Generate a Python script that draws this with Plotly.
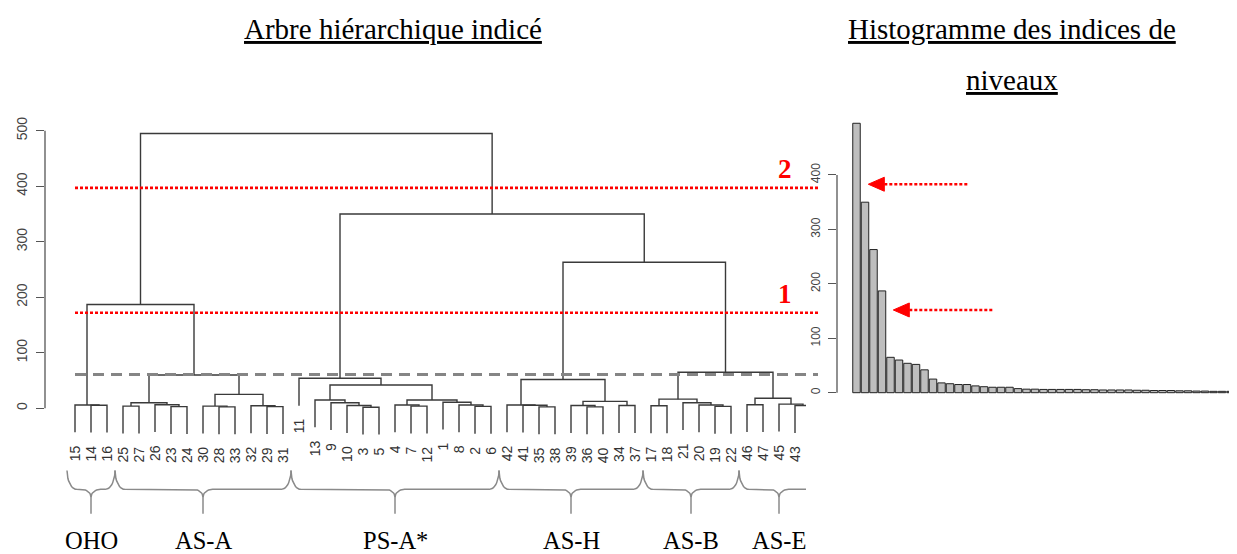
import numpy as np
import plotly.graph_objects as go

# leaves of the tree, left to right
leaf_order = [15, 14, 16, 25, 27, 26, 23, 24, 30, 28, 33, 32, 29, 31,
              11, 13, 9, 10, 3, 5, 4, 7, 12, 1, 8, 2, 6,
              42, 41, 35, 38, 39, 36, 40, 34, 37,
              17, 18, 21, 20, 19, 22,
              46, 47, 45, 43, 44]

# merges (node, left child, right child, level index)
merge_name = ["a1", "oho", "a2", "a3", "a4", "a5", "a6", "a7", "a8", "a9", "a10", "asa", "left",
              "p1", "p2", "p3", "p4", "p5", "p6", "p7", "p8", "p9", "p10", "p11", "psa",
              "h1", "h2", "h3", "h4", "h5", "h6", "h7", "ash",
              "b1", "b2", "b3", "b4", "asb",
              "e1", "e2", "e3", "ase",
              "be", "hbe", "right", "root"]
merge_left = ["14", "15", "25", "23", "26", "a2", "28", "30", "29", "32", "a7", "a5", "oho",
              "3", "10", "9", "13", "7", "4", "2", "8", "1", "p6", "p4", "11",
              "35", "41", "42", "36", "39", "34", "h5", "h3",
              "17", "19", "20", "21", "b1",
              "46", "43", "45", "e1",
              "asb", "ash", "psa", "left"]
merge_right = ["16", "a1", "27", "24", "a3", "a4", "33", "a6", "31", "a8", "a9", "a10", "asa",
               "5", "p1", "p2", "p3", "12", "p5", "6", "p7", "p8", "p9", "p10", "p11",
               "38", "h1", "h2", "40", "h4", "37", "h6", "h7",
               "18", "22", "b2", "b3", "b4",
               "47", "44", "e2", "e3",
               "ase", "be", "hbe", "right"]
merge_height = [5.5, 6, 4, 3, 6.5, 10, 2.5, 4, 3, 4.5, 25, 60, 187,
                2, 5, 10, 15, 4, 6, 3.5, 6, 11, 15, 42, 54,
                2.5, 5.5, 6, 2.5, 5, 5, 12.5, 52,
                4.5, 3.5, 6, 10, 16.5,
                6.5, 5, 7.5, 18,
                65, 263, 350, 495]

group_names = ["OHO", "AS-A", "PS-A*", "AS-H", "AS-B", "AS-E"]
group_sizes = [3, 11, 13, 9, 6, 5]

cut_levels = [172, 397]
cut_labels = ["1", "2"]
ref_level = 61

arrow_levels = [152, 383]
arrow_tips = [4.33, 1.39]
arrow_tails = [16.0, 13.15]

# page is 1237x554, the html body adds an 8px margin
OFF = 8
W, H = 1237 - OFF, 554 - OFF


def fx(p):
    return (p - OFF) / W


def fy(p):
    return 1 - (p - OFF) / H


# ---- tree geometry ----
kids = {n: (a, b, h) for n, a, b, h in zip(merge_name, merge_left, merge_right, merge_height)}
node_x = {str(l): i for i, l in enumerate(leaf_order)}
hang = 0.1 * (max(merge_height) - min(merge_height))


def pos(n):
    if n not in node_x:
        a, b, _ = kids[n]
        node_x[n] = (pos(a) + pos(b)) / 2
    return node_x[n]


leaf_end = {}
xs, ys = [], []
for n, a, b, h in zip(merge_name, merge_left, merge_right, merge_height):
    ends = []
    for c in (a, b):
        if c in kids:
            ends.append(kids[c][2])
        else:
            leaf_end[c] = h - hang
            ends.append(h - hang)
    xa, xb = pos(a), pos(b)
    xs += [xa, xa, xb, xb, None]
    ys += [ends[0], h, h, ends[1], None]

# pixel anchors of the two panels (page pixels)
d_left, d_right = 45, 806
leaf0_px, leaf_step = 75, 16.0
d_zero_px, d_scale = 408.3, 0.5552
h_left = 837
bar0_px, bar_step = 856.5, 8.5
h_zero_px, h_scale = 392.7, 0.5443

dx_range = [(d_left - leaf0_px) / leaf_step, (d_right - leaf0_px) / leaf_step]
dy_range = [(d_zero_px - 554) / d_scale, (d_zero_px - OFF) / d_scale]
hx_range = [(h_left - bar0_px) / bar_step, (1237 - bar0_px) / bar_step]
hy_range = [(h_zero_px - 554) / h_scale, (h_zero_px - OFF) / h_scale]

fig = go.Figure()

fig.add_trace(go.Scatter(x=xs, y=ys, mode="lines",
                         line=dict(color="#3a3a3a", width=1.4),
                         hoverinfo="skip", showlegend=False, xaxis="x", yaxis="y"))

# braces under the groups
y_top, y_mid, y_tip = -112, -146, -190
r = 0.6
t = np.linspace(0, np.pi / 2, 12)
bx, by = [], []
start = 0
for size in group_sizes:
    xa, xb = start - 0.5, start + size - 0.5
    xc = (xa + xb) / 2
    px = list(xa + r * (1 - np.cos(t))) + list(xc - r + r * np.sin(t)) + [xc]
    py = list(y_top - (y_top - y_mid) * np.sin(t)) + list(y_mid - 14 * (1 - np.cos(t))) + [y_tip]
    qx = list(xc + r - r * np.sin(t[::-1])) + list(xb - r * (1 - np.cos(t[::-1])))
    qy = list(y_mid - 14 * (1 - np.cos(t[::-1]))) + list(y_top - (y_top - y_mid) * np.sin(t[::-1]))
    bx += px + [None] + [xc] + qx + [None]
    by += py + [None] + [y_mid - 14] + qy + [None]
    start += size
fig.add_trace(go.Scatter(x=bx, y=by, mode="lines", line=dict(color="#8a8a8a", width=1.5),
                         hoverinfo="skip", showlegend=False, xaxis="x", yaxis="y"))

# histogram of levels
levels = sorted(merge_height, reverse=True)
fig.add_trace(go.Bar(x=list(range(len(levels))), y=levels,
                     marker=dict(color="#bebebe", line=dict(color="#222222", width=1)),
                     hoverinfo="skip", showlegend=False, xaxis="x2", yaxis="y2"))

ann = []
for leaf, i in zip(leaf_order, range(len(leaf_order))):
    if i > dx_range[1]:
        continue
    ann.append(dict(x=i, y=leaf_end[str(leaf)], xref="x", yref="y", text=str(leaf),
                    textangle=-90, showarrow=False, xanchor="center", yanchor="top", yshift=-11,
                    font=dict(family="Liberation Sans", size=14, color="#333333")))

start = 0
for name, size in zip(group_names, group_sizes):
    ann.append(dict(x=start + (size - 1) / 2, y=-238, xref="x", yref="y", text=name,
                    showarrow=False, xanchor="center", yanchor="middle",
                    font=dict(family="Liberation Serif", size=24.5, color="black")))
    start += size

for lvl, lab in zip(cut_levels, cut_labels):
    ann.append(dict(x=fx(785), y=lvl, xref="paper", yref="y", text="<b>" + lab + "</b>",
                    showarrow=False, xanchor="center", yanchor="bottom", yshift=2,
                    font=dict(family="Liberation Serif", size=27, color="red")))

title_font = dict(family="Liberation Serif", size=29, color="black")
for tx, ty, txt in [(393, 29, "Arbre hiérarchique indicé"),
                    (1012, 29, "Histogramme des indices de"),
                    (1012, 80, "niveaux")]:
    ann.append(dict(x=fx(tx), y=fy(ty), xref="paper", yref="paper", text="<u>" + txt + "</u>",
                    showarrow=False, xanchor="center", yanchor="middle", font=title_font))

shapes = []
shapes.append(dict(type="line", xref="x domain", yref="y", x0=0, x1=0, y0=0, y1=500,
                   line=dict(color="#555555", width=1.3)))
shapes.append(dict(type="line", xref="x2 domain", yref="y2", x0=0, x1=0, y0=0, y1=400,
                   line=dict(color="#555555", width=1.3)))
shapes.append(dict(type="line", xref="paper", yref="y", x0=fx(75), x1=fx(818),
                   y0=ref_level, y1=ref_level, line=dict(color="#858585", width=3, dash="11px,7px")))
for lvl in cut_levels:
    shapes.append(dict(type="line", xref="paper", yref="y", x0=fx(75), x1=fx(818),
                       y0=lvl, y1=lvl, line=dict(color="red", width=2.6, dash="3px,2px")))

head_len = 16 / bar_step
head_half = 7 / h_scale
for lvl, tip, tail in zip(arrow_levels, arrow_tips, arrow_tails):
    shapes.append(dict(type="line", xref="x2", yref="y2", x0=tip + head_len, x1=tail,
                       y0=lvl, y1=lvl, line=dict(color="red", width=2.6, dash="3px,2px")))
    shapes.append(dict(type="path", xref="x2", yref="y2",
                       path=f"M {tip},{lvl} L {tip + head_len},{lvl + head_half} "
                            f"L {tip + head_len},{lvl - head_half} Z",
                       fillcolor="red", line=dict(color="red", width=1)))

tick_common = dict(ticks="outside", ticklen=8, tickwidth=1.3, tickcolor="#555555",
                   tickangle=-90, showgrid=False, zeroline=False, showline=False,
                   ticklabelstandoff=3)

fig.update_layout(
    width=W, height=H,
    margin=dict(l=0, r=0, t=0, b=0),
    paper_bgcolor="white", plot_bgcolor="white",
    bargap=0.12,
    xaxis=dict(domain=[fx(d_left), fx(d_right)], range=dx_range, visible=False),
    yaxis=dict(domain=[0, 1], range=dy_range, anchor="x",
               tickvals=[0, 100, 200, 300, 400, 500],
               tickfont=dict(family="Liberation Sans", size=14, color="#444444"),
               **tick_common),
    xaxis2=dict(domain=[fx(h_left), 1], range=hx_range, visible=False),
    yaxis2=dict(domain=[0, 1], range=hy_range, anchor="x2",
                tickvals=[0, 100, 200, 300, 400],
                tickfont=dict(family="Liberation Sans", size=12, color="#444444"),
                **tick_common),
    annotations=ann,
    shapes=shapes,
)

fig.write_html("out.html")
